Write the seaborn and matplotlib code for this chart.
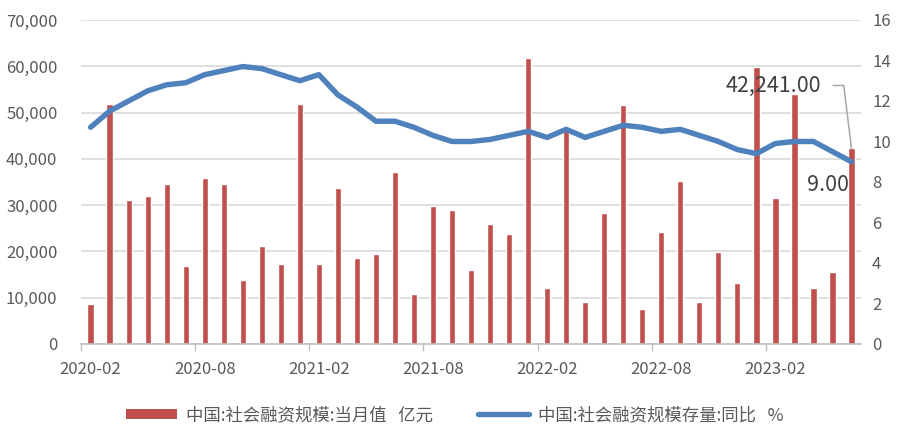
import matplotlib
matplotlib.use("Agg")
import matplotlib.pyplot as plt
import seaborn as sns
import pandas as pd
import numpy as np
from matplotlib.patches import Patch
from matplotlib.lines import Line2D

months = pd.period_range("2020-02", "2023-06", freq="M").strftime("%Y-%m").tolist()

# 社会融资规模:当月值 (亿元)
monthly_flow = [8600, 51900, 31100, 32000, 34600, 16900, 35900, 34600, 13900, 21200,
                17300, 51800, 17300, 33700, 18600, 19500, 37200, 10800, 29800, 29000,
                16000, 26000, 23700, 61700, 12100, 46500, 9100, 28400, 51700, 7561,
                24300, 35300, 9079, 19900, 13100, 59800, 31600, 53900, 12200, 15600,
                42241]

# 社会融资规模存量:同比 (%)
stock_yoy = [10.7, 11.5, 12.0, 12.5, 12.8, 12.9, 13.3, 13.5, 13.7, 13.6,
             13.3, 13.0, 13.3, 12.3, 11.7, 11.0, 11.0, 10.7, 10.3, 10.0,
             10.0, 10.1, 10.3, 10.5, 10.2, 10.6, 10.2, 10.5, 10.8, 10.7,
             10.5, 10.6, 10.3, 10.0, 9.6, 9.4, 9.9, 10.0, 10.0, 9.5,
             9.0]

tick_labels = ["2020-02", "2020-08", "2021-02", "2021-08", "2022-02", "2022-08", "2023-02"]

bar_label = "中国:社会融资规模:当月值   亿元"
line_label = "中国:社会融资规模存量:同比   %"

BAR_COLOR = "#c0504d"
LINE_COLOR = "#4f81bd"
TEXT_COLOR = "#595959"
GRID_COLOR = "#d9d9d9"

sns.set_theme(style="white")
plt.rcParams["font.family"] = ["Noto Sans CJK SC", "DejaVu Sans"]

df = pd.DataFrame({"month": months, "flow": monthly_flow, "yoy": stock_yoy})
df["idx"] = np.arange(len(df))

fig = plt.figure(figsize=(9.01, 4.24), dpi=100)
ax = fig.add_axes([0.09, 0.1887, 0.8656, 0.7642])

sns.barplot(data=df, x="month", y="flow", color=BAR_COLOR, saturation=1,
            width=0.33, ax=ax, zorder=2)
ax.set_ylim(0, 70000)
ax.set_yticks(np.arange(0, 70001, 10000))
ax.set_yticklabels([f"{v:,}" for v in range(0, 70001, 10000)])
ax.yaxis.grid(True, color=GRID_COLOR, linewidth=1.2, zorder=0)
ax.set_axisbelow(True)
ax.set_xlim(-0.5, len(months) - 0.5)

# Labels sit under their month; tick marks sit on the month boundaries
label_pos = [months.index(m) for m in tick_labels]
ax.set_xticks(label_pos)
ax.set_xticklabels(tick_labels)
ax.set_xticks([p - 0.5 for p in label_pos], minor=True)
ax.tick_params(axis="x", which="major", length=0, labelcolor=TEXT_COLOR,
               labelsize=12, pad=12)
ax.tick_params(axis="x", which="minor", length=5, width=1, color="#bfbfbf",
               bottom=True, direction="out")
ax.tick_params(axis="y", length=0, labelcolor=TEXT_COLOR, labelsize=12, pad=17)
ax.set_xlabel("")
ax.set_ylabel("")
for side in ["left", "right", "top"]:
    ax.spines[side].set_visible(False)
ax.spines["bottom"].set_color("#bfbfbf")
ax.spines["bottom"].set_linewidth(1.2)

ax2 = ax.twinx()
sns.lineplot(data=df, x="idx", y="yoy", color=LINE_COLOR, linewidth=3.9, ax=ax2,
             solid_capstyle="round", solid_joinstyle="round")
ax2.set_ylim(0, 16)
ax2.set_yticks(np.arange(0, 17, 2))
ax2.tick_params(axis="y", length=0, labelcolor=TEXT_COLOR, labelsize=12, pad=8)
ax2.set_ylabel("")
ax2.set_xlabel("")
for side in ["left", "right", "top", "bottom"]:
    ax2.spines[side].set_visible(False)
ax.set_xlim(-0.5, len(months) - 0.5)

# Last-value labels
last = len(months) - 1
ax.annotate(f"{monthly_flow[-1]:,.2f}", xy=(last, monthly_flow[-1]),
            xytext=(-30, 63), textcoords="offset pixels",
            ha="right", va="center", fontsize=15.5, color="#404040",
            arrowprops=dict(arrowstyle="-", color="#a6a6a6", lw=1.1,
                            relpos=(1, 0.5), shrinkA=6, shrinkB=0,
                            connectionstyle="angle,angleA=0,angleB=97,rad=0"),
            zorder=5)
ax2.annotate(f"{stock_yoy[-1]:.2f}", xy=(last, stock_yoy[-1]),
             xytext=(-3, -23), textcoords="offset pixels",
             ha="right", va="center", fontsize=15.5, color="#404040", zorder=5)

handles = [Patch(facecolor=BAR_COLOR, edgecolor="none"),
           Line2D([0], [0], color=LINE_COLOR, linewidth=3.9, solid_capstyle="round")]
fig.legend(handles, [bar_label, line_label], loc="lower center",
           bbox_to_anchor=(0.505, -0.037), ncol=2, frameon=False,
           fontsize=12.5, labelcolor=TEXT_COLOR, columnspacing=2.6,
           handlelength=2.9, handleheight=0.55, handletextpad=0.55)

fig.savefig("out.png", dpi=100)
